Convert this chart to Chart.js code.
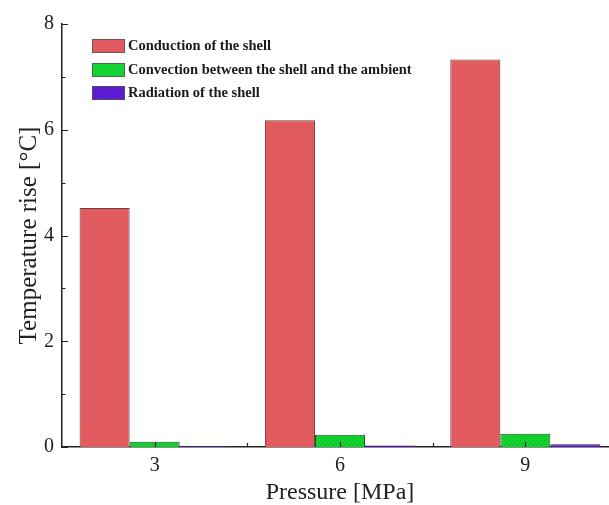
<!DOCTYPE html>
<html>
<head>
<meta charset="utf-8">
<script src="https://cdn.jsdelivr.net/npm/chart.js@4/dist/chart.umd.min.js"></script>
<style>
  html, body { margin: 0; padding: 0; background: #fff; overflow: hidden; }
  #wrap { width: 620px; height: 505px; }
</style>
</head>
<body>
<div id="wrap"><canvas id="c" width="620" height="505"></canvas></div>
<script>
// Pressure levels (MPa)
const pressures = ['3', '6', '9'];
// Temperature rise contributions (°C)
const conduction = [4.52, 6.18, 7.33];
const convection = [0.10, 0.23, 0.25];
const radiation = [0.02, 0.03, 0.05];
const seriesNames = [
  'Conduction of the shell',
  'Convection between the shell and the ambient',
  'Radiation of the shell'
];
const yTicks = [0, 2, 4, 6, 8];

const SERIF = "'Liberation Serif', 'Times New Roman', serif";

// fine hatched fill for the bars
function hatch(base, dot) {
  const c = document.createElement('canvas');
  c.width = 4; c.height = 4;
  const g = c.getContext('2d');
  g.fillStyle = base;
  g.fillRect(0, 0, 4, 4);
  g.fillStyle = dot;
  g.fillRect(0, 0, 1, 1);
  g.fillRect(2, 2, 1, 1);
  return g.createPattern(c, 'repeat');
}
const redFill = hatch('#e35d61', '#cf4a50');
const greenFill = hatch('#12d630', '#0aa81f');
const purpleFill = hatch('#5b1bd0', '#4410a8');
const legendSwatch = ['#e05a5e', '#14d232', '#5b1bd0'];

// inward tick marks on both axes
const innerTicks = {
  id: 'innerTicks',
  afterDraw(chart) {
    const ctx = chart.ctx;
    const xs = chart.scales.x, ys = chart.scales.y;
    ctx.save();
    ctx.strokeStyle = '#222';
    ctx.lineWidth = 1.2;
    ctx.beginPath();
    for (let v = 0; v <= 8; v++) {
      const y = Math.round(ys.getPixelForValue(v)) + 0.5;
      const len = v % 2 === 0 ? 6 : 3.5;
      ctx.moveTo(xs.left, y);
      ctx.lineTo(xs.left + len, y);
    }
    for (let i = 0; i < pressures.length; i++) {
      const x = Math.round(xs.getPixelForValue(i)) + 0.5;
      ctx.moveTo(x, ys.bottom);
      ctx.lineTo(x, ys.bottom - 5);
      if (i > 0) {
        const xb = Math.round((xs.getPixelForValue(i - 1) + xs.getPixelForValue(i)) / 2) + 0.5;
        ctx.moveTo(xb, ys.bottom);
        ctx.lineTo(xb, ys.bottom - 4);
      }
    }
    ctx.stroke();
    ctx.restore();
  }
};

// legend placed inside the plot area, top left
const innerLegend = {
  id: 'innerLegend',
  afterDraw(chart) {
    const ctx = chart.ctx;
    const x0 = 92, rows = [46, 70, 93], bw = 33, bh = 14;
    ctx.save();
    ctx.font = "bold 14.5px " + SERIF;
    ctx.textBaseline = 'middle';
    chart.data.datasets.forEach((ds, i) => {
      const cy = rows[i];
      ctx.fillStyle = legendSwatch[i];
      ctx.fillRect(x0, cy - bh / 2, bw, bh);
      ctx.strokeStyle = '#555';
      ctx.lineWidth = 0.8;
      ctx.strokeRect(x0 + 0.5, cy - bh / 2 + 0.5, bw - 1, bh - 1);
      ctx.fillStyle = '#1a1a1a';
      ctx.fillText(ds.label, x0 + bw + 3, cy);
    });
    ctx.restore();
  }
};

new Chart(document.getElementById('c'), {
  type: 'bar',
  data: {
    labels: pressures,
    datasets: [
      { label: seriesNames[0], data: conduction, backgroundColor: redFill, borderColor: '#6a4040' },
      { label: seriesNames[1], data: convection, backgroundColor: greenFill, borderColor: '#2a4a2a' },
      { label: seriesNames[2], data: radiation, backgroundColor: purpleFill, borderColor: '#2a1a60' }
    ]
  },
  options: {
    responsive: false,
    animation: false,
    layout: { padding: { top: 24, right: 2, left: 0, bottom: 0 } },
    datasets: {
      bar: { categoryPercentage: 0.81, barPercentage: 1.0, borderWidth: 1 }
    },
    plugins: {
      legend: { display: false },
      tooltip: { enabled: false }
    },
    scales: {
      x: {
        type: 'category',
        offset: true,
        grid: { display: false, drawTicks: false },
        border: { display: true, color: '#222', width: 1.5 },
        ticks: { color: '#222', font: { family: SERIF, size: 20 }, padding: 7, maxRotation: 0 },
        title: {
          display: true, text: 'Pressure [MPa]', color: '#222',
          font: { family: SERIF, size: 24, lineHeight: 1.0 }, padding: { top: 0, bottom: 0 }
        },
        afterFit(s) { s.height = 58; }
      },
      y: {
        min: 0, max: 8,
        afterBuildTicks(s) { s.ticks = yTicks.map(v => ({ value: v })); },
        grid: { display: false, drawTicks: false },
        border: { display: true, color: '#222', width: 1.5 },
        ticks: { color: '#222', font: { family: SERIF, size: 20 }, padding: 8 },
        title: {
          display: true, text: 'Temperature rise [°C]', color: '#222',
          font: { family: SERIF, size: 25 }, padding: { top: 14, bottom: 0 }
        },
        afterFit(s) { s.width = 62; }
      }
    }
  },
  plugins: [innerTicks, innerLegend]
});
</script>
</body>
</html>
